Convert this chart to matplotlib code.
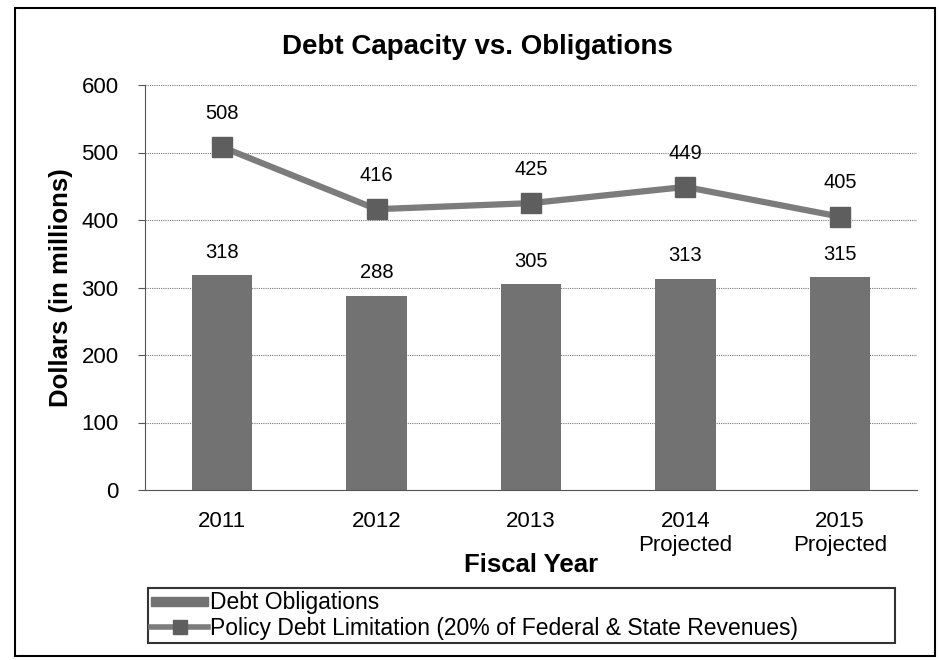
import matplotlib
matplotlib.use("Agg")
import matplotlib.pyplot as plt
from matplotlib.patches import Rectangle
from matplotlib.lines import Line2D
from matplotlib.legend_handler import HandlerPatch

plt.rcParams['font.family'] = ['Liberation Sans', 'DejaVu Sans']

categories = ["2011", "2012", "2013", "2014\nProjected", "2015\nProjected"]
debt_obligations = [318, 288, 305, 313, 315]
policy_limit = [508, 416, 425, 449, 405]
yticks = [0, 100, 200, 300, 400, 500, 600]

bar_color = '#727272'
line_color = '#7c7c7c'
marker_color = '#5e5e5e'

fig = plt.figure(figsize=(9.39, 6.6), dpi=100)
ax = fig.add_axes([145/939, 1-490/660, (917-145)/939, (490-85)/660])

x = list(range(len(categories)))
ax.bar(x, debt_obligations, width=0.39, color=bar_color, zorder=2)
ax.plot(x, policy_limit, color=line_color, lw=4.5, marker='s', markersize=14,
        markerfacecolor=marker_color, markeredgecolor=marker_color, zorder=3)

for xi, v in zip(x, debt_obligations):
    ax.text(xi, v + 34, str(v), ha='center', va='center', fontsize=14.5)
for xi, v in zip(x, policy_limit):
    ax.text(xi, v + 50, str(v), ha='center', va='center', fontsize=14.5)

ax.set_xlim(-0.5, len(categories) - 0.5)
ax.set_ylim(0, 600)
ax.set_yticks(yticks)
ax.set_xticks(x)
ax.set_xticklabels(categories, fontsize=16, linespacing=1.2)
ax.tick_params(axis='y', labelsize=16, length=5, color='#555555', pad=14)
ax.tick_params(axis='x', length=0, pad=15)
ax.grid(axis='y', color='#777777', linestyle=(0, (1, 1)), lw=0.8, zorder=0)
for s in ['top', 'right']:
    ax.spines[s].set_visible(False)
ax.spines['left'].set_linestyle((0, (1, 1)))
ax.spines['left'].set_color('#555555')
ax.spines['bottom'].set_linestyle((0, (1, 1)))
ax.spines['bottom'].set_color('#555555')

ax.set_ylabel('Dollars (in millions)', fontsize=18.5, fontweight='bold', labelpad=6)
ax.set_xlabel('Fiscal Year', fontsize=18.5, fontweight='bold', labelpad=-2)
fig.text(477/939, 1-47/660, 'Debt Capacity vs. Obligations', ha='center',
         va='center', fontsize=20, fontweight='bold')

bar_proxy = Rectangle((0, 0), 1, 1, color=bar_color)
line_proxy = Line2D([], [], color=line_color, lw=4, marker='s', markersize=10,
                    markerfacecolor=marker_color, markeredgecolor=marker_color)


def thin_bar(legend, orig_handle, xdescent, ydescent, width, height, fontsize):
    return Rectangle((-xdescent, -ydescent + height * 0.22), width, height * 0.56)


leg = fig.legend([bar_proxy, line_proxy],
                 ['Debt Obligations',
                  'Policy Debt Limitation (20% of Federal & State Revenues)'],
                 handler_map={bar_proxy: HandlerPatch(patch_func=thin_bar)},
                 loc='upper left',
                 bbox_to_anchor=(148/939, 1-649/660, (895-148)/939, (649-588)/660),
                 mode='expand',
                 fontsize=16.5, frameon=True, fancybox=False, edgecolor='black',
                 borderpad=0.15, labelspacing=0.1, handlelength=2.45,
                 handletextpad=0.1, borderaxespad=0)
leg.get_frame().set_linewidth(1.5)

fig.patches.append(Rectangle((15/939, 1-656/660), (935-15)/939, (656-8)/660,
                             transform=fig.transFigure, fill=False,
                             edgecolor='black', lw=1.5))

fig.savefig('out.png', dpi=100)
